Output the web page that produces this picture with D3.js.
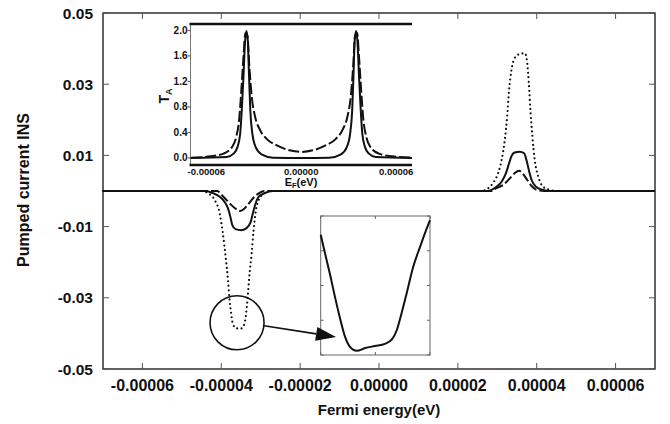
<!DOCTYPE html>
<html><head><meta charset="utf-8">
<script src="https://cdn.jsdelivr.net/npm/d3@7/dist/d3.min.js"></script>
<style>
html,body{margin:0;padding:0;background:#fff;}
text{font-family:"Liberation Sans",Arial,Helvetica,sans-serif;font-weight:bold;fill:#111;}
</style></head>
<body><svg id="c" width="670" height="424"></svg>
<script>
// ---------- main chart data ----------
const xTicks = [-0.00006,-0.00004,-0.00002,0,0.00002,0.00004,0.00006];
const xTickLabels = ["-0.00006","-0.00004","-0.00002","0.00000","0.00002","0.00004","0.00006"];
const yTicks = [0.05,0.03,0.01,-0.01,-0.03,-0.05];
const yTickLabels = ["0.05","0.03","0.01","-0.01","-0.03","-0.05"];

const solidE = [-7e-5,-4.4e-5,-4.21e-5,-4.04e-5,-3.92e-5,-3.83e-5,-3.77e-5,-3.72e-5,-3.64e-5,-3.49e-5,-3.37e-5,-3.26e-5,-3.20e-5,-3.13e-5,-3.05e-5,-2.90e-5,-2.7e-5,
  2.75e-5,2.98e-5,3.11e-5,3.22e-5,3.30e-5,3.36e-5,3.44e-5,3.57e-5,3.68e-5,3.74e-5,3.80e-5,3.87e-5,3.98e-5,4.16e-5,4.35e-5,7e-5];
const solidI = [0,0,-0.0006,-0.0016,-0.0030,-0.0049,-0.0072,-0.0096,-0.0107,-0.0110,-0.0105,-0.0089,-0.0063,-0.0035,-0.0016,-0.0006,0,
  0,0.0012,0.0026,0.0050,0.0078,0.0098,0.0108,0.0110,0.0106,0.0087,0.0059,0.0031,0.0012,0.0003,0,0];

const dotE = [-7e-5,-4.5e-5,-4.34e-5,-4.17e-5,-4.04e-5,-3.96e-5,-3.89e-5,-3.83e-5,-3.79e-5,-3.75e-5,-3.71e-5,-3.62e-5,-3.49e-5,-3.41e-5,-3.37e-5,-3.33e-5,-3.29e-5,-3.23e-5,-3.18e-5,-3.12e-5,-3.03e-5,-2.90e-5,-2.75e-5,
  2.6e-5,2.73e-5,2.89e-5,3.02e-5,3.11e-5,3.19e-5,3.25e-5,3.30e-5,3.36e-5,3.44e-5,3.57e-5,3.70e-5,3.76e-5,3.80e-5,3.84e-5,3.89e-5,3.95e-5,4.04e-5,4.16e-5,4.33e-5,4.5e-5,7e-5];
const dotI = [0,0,-0.0006,-0.0025,-0.0063,-0.0119,-0.0185,-0.0250,-0.0306,-0.0344,-0.0372,-0.0386,-0.0386,-0.0372,-0.0344,-0.0297,-0.0241,-0.0175,-0.0110,-0.0053,-0.0021,-0.0006,0,
  0,0.0005,0.0022,0.0050,0.0087,0.0143,0.0209,0.0284,0.0340,0.0373,0.0385,0.0387,0.0359,0.0303,0.0228,0.0153,0.0087,0.0040,0.0012,0.0003,0,0];

const dashE = [-7e-5,-4.1e-5,-4.0e-5,-3.87e-5,-3.75e-5,-3.62e-5,-3.52e-5,-3.41e-5,-3.30e-5,-3.20e-5,-3.07e-5,-2.9e-5,
  2.85e-5,2.98e-5,3.15e-5,3.32e-5,3.44e-5,3.55e-5,3.65e-5,3.76e-5,3.87e-5,4.0e-5,4.2e-5,7e-5];
const dashI = [0,0,-0.0010,-0.0025,-0.0039,-0.0051,-0.0056,-0.0049,-0.0035,-0.0021,-0.0008,0,
  0,0.0008,0.0017,0.0036,0.0050,0.0057,0.0048,0.0031,0.0014,0.0003,0,0];

// ---------- inset 1 (T_A) data ----------
const insetXTicks = [-0.00006,0,0.00006];
const insetXTickLabels = ["-0.00006","0.00000","0.00006"];
const insetYTicks = [0,0.4,0.8,1.2,1.6,2.0];
const insetYTickLabels = ["0.0","0.4","0.8","1.2","1.6","2.0"];
const taSolidE = [-7.0e-5,-4.70e-5,-4.28e-5,-4.03e-5,-3.86e-5,-3.76e-5,-3.65e-5,-3.57e-5,-3.47e-5,-3.38e-5,-3.30e-5,-3.22e-5,-3.09e-5,-2.88e-5,-2.51e-5,-1.77e-5,0,
  1.77e-5,2.51e-5,2.88e-5,3.09e-5,3.22e-5,3.30e-5,3.38e-5,3.47e-5,3.57e-5,3.65e-5,3.76e-5,3.86e-5,4.03e-5,4.28e-5,4.70e-5,7.0e-5];
const taSolidT = [0,0.016,0.068,0.17,0.38,0.75,1.28,1.75,1.99,1.85,1.28,0.75,0.38,0.17,0.058,0.005,0,
  0.005,0.058,0.17,0.38,0.75,1.28,1.85,1.99,1.75,1.28,0.75,0.38,0.17,0.068,0.016,0];
const taDashE = [-6.95e-5,-5.74e-5,-4.91e-5,-4.38e-5,-4.11e-5,-3.93e-5,-3.80e-5,-3.65e-5,-3.53e-5,-3.40e-5,-3.28e-5,-3.13e-5,-2.92e-5,-2.61e-5,-2.19e-5,-1.57e-5,-0.73e-5,0,
  0.73e-5,1.57e-5,2.19e-5,2.61e-5,2.92e-5,3.13e-5,3.28e-5,3.40e-5,3.53e-5,3.65e-5,3.80e-5,3.93e-5,4.11e-5,4.38e-5,4.91e-5,5.74e-5,6.95e-5];
const taDashT = [0.005,0.026,0.068,0.17,0.33,0.59,1.01,1.59,1.96,1.91,1.43,0.96,0.65,0.44,0.30,0.20,0.12,0.095,
  0.12,0.20,0.30,0.44,0.65,0.96,1.43,1.91,1.96,1.59,1.01,0.59,0.33,0.17,0.068,0.026,0.005];

// ---------- inset 2 (magnified dip) data ----------
const zoomE = [-3.700e-5,-3.688e-5,-3.674e-5,-3.661e-5,-3.647e-5,-3.633e-5,-3.620e-5,-3.601e-5,-3.578e-5,-3.551e-5,-3.524e-5,-3.505e-5,-3.491e-5,-3.478e-5,-3.464e-5,-3.446e-5,-3.427e-5,-3.414e-5,-3.400e-5];
const zoomI = [-0.03727,-0.03754,-0.03785,-0.03816,-0.03847,-0.03874,-0.03888,-0.03894,-0.03890,-0.03887,-0.03884,-0.03878,-0.03864,-0.03840,-0.03811,-0.03773,-0.03744,-0.03725,-0.03706];
const zoomXTicks = [-3.7e-5,-3.55e-5,-3.4e-5];
const zoomYTicks = [-0.039,-0.0385,-0.038,-0.0375,-0.037];

const svg = d3.select("#c");
const L=103,R=655,T=13,B=369;
const x = d3.scaleLinear([-7e-5,7e-5],[L,R]);
const y = d3.scaleLinear([-0.05,0.05],[B,T]);
const zipd=(a,b)=>a.map((v,i)=>[v,b[i]]);

// frame
svg.append("rect").attr("x",L).attr("y",T).attr("width",R-L).attr("height",B-T)
  .attr("fill","none").attr("stroke","#222").attr("stroke-width",1.4);

// ticks (mirrored, inward)
const tk = svg.append("g").attr("stroke","#555").attr("stroke-width",1);
xTicks.forEach(v=>{
  tk.append("line").attr("x1",x(v)).attr("x2",x(v)).attr("y1",B).attr("y2",B-6);
  tk.append("line").attr("x1",x(v)).attr("x2",x(v)).attr("y1",T).attr("y2",T+6);
});
yTicks.forEach(v=>{
  tk.append("line").attr("x1",L).attr("x2",L+6).attr("y1",y(v)).attr("y2",y(v));
  tk.append("line").attr("x1",R).attr("x2",R-6).attr("y1",y(v)).attr("y2",y(v));
});
xTicks.forEach((v,i)=>{
  svg.append("text").attr("x",x(v)).attr("y",391).attr("text-anchor","middle")
    .attr("font-size","16px").text(xTickLabels[i]);
});
yTicks.forEach((v,i)=>{
  svg.append("text").attr("x",93).attr("y",y(v)+5.5).attr("text-anchor","end")
    .attr("font-size","15.5px").text(yTickLabels[i]);
});
svg.append("text").attr("x",379).attr("y",415).attr("text-anchor","middle")
  .attr("font-size","15px").text("Fermi energy(eV)");
svg.append("text").attr("transform","translate(29,190) rotate(-90)").attr("text-anchor","middle")
  .attr("font-size","16px").text("Pumped current INS");

// main curves
const mline = d3.line().x(d=>x(d[0])).y(d=>y(d[1])).curve(d3.curveMonotoneX);
svg.append("path").datum(zipd(dotE,dotI)).attr("d",mline).attr("fill","none")
  .attr("stroke","#111").attr("stroke-width",2.2).attr("stroke-linecap","round").attr("stroke-dasharray","0,4.5");
svg.append("path").datum(zipd(dashE,dashI)).attr("d",mline).attr("fill","none")
  .attr("stroke","#111").attr("stroke-width",2).attr("stroke-dasharray","9,3");
svg.append("path").datum(zipd(solidE,solidI)).attr("d",mline).attr("fill","none")
  .attr("stroke","#111").attr("stroke-width",2);

// ---------- inset 1 ----------
const iL=190.5,iR=412,iT=24,iB=165;
const ix = d3.scaleLinear([-7e-5,7e-5],[iL,iR]);
const iy = d3.scaleLinear([-0.11,2.1],[iB,iT]);
const g1 = svg.append("g");
g1.append("line").attr("x1",iL).attr("x2",iL).attr("y1",iT).attr("y2",iB).attr("stroke","#777").attr("stroke-width",1);
g1.append("line").attr("x1",iL-1).attr("x2",iR).attr("y1",iT).attr("y2",iT).attr("stroke","#111").attr("stroke-width",2.5);
g1.append("line").attr("x1",iL-1).attr("x2",iR).attr("y1",iB).attr("y2",iB).attr("stroke","#111").attr("stroke-width",2.5);
insetYTicks.forEach((v,i)=>{
  g1.append("line").attr("x1",iL-3).attr("x2",iL).attr("y1",iy(v)).attr("y2",iy(v)).attr("stroke","#555");
  g1.append("text").attr("x",iL-3).attr("y",iy(v)+3.5).attr("text-anchor","end").attr("font-size","10px").text(insetYTickLabels[i]);
});
insetXTicks.forEach((v,i)=>{
  g1.append("text").attr("x",ix(v)).attr("y",175).attr("text-anchor","middle").attr("font-size","9.5px").text(insetXTickLabels[i]);
});
const ef = g1.append("text").attr("x",301).attr("y",186).attr("text-anchor","middle").attr("font-size","11px");
ef.append("tspan").text("E");
ef.append("tspan").attr("font-size","7.5px").attr("dy","1.5").text("F");
ef.append("tspan").attr("dy","-1.5").text("(eV)");
const ta = g1.append("text").attr("transform","translate(169,96) rotate(-90)").attr("text-anchor","middle").attr("font-size","14px");
ta.append("tspan").text("T");
ta.append("tspan").attr("font-size","9px").attr("dy","3").text("A");

const iline = d3.line().x(d=>ix(d[0])).y(d=>iy(d[1])).curve(d3.curveMonotoneX);
g1.append("path").datum(zipd(taDashE,taDashT)).attr("d",iline).attr("fill","none")
  .attr("stroke","#111").attr("stroke-width",2).attr("stroke-dasharray","11,3");
g1.append("path").datum(zipd(taSolidE,taSolidT)).attr("d",iline).attr("fill","none")
  .attr("stroke","#111").attr("stroke-width",2);

// ---------- inset 2 ----------
const zL=320.7,zR=430,zT=216,zB=355;
const zx = d3.scaleLinear([-3.7e-5,-3.4e-5],[zL,zR]);
const zy = d3.scaleLinear([-0.039,-0.037],[zB,zT]);
const g2 = svg.append("g");
g2.append("rect").attr("x",zL).attr("y",zT).attr("width",zR-zL).attr("height",zB-zT).attr("fill","#fff")
  .attr("stroke","#666").attr("stroke-width",1);
zoomXTicks.forEach(v=>{
  g2.append("line").attr("x1",zx(v)).attr("x2",zx(v)).attr("y1",zT).attr("y2",zT+3).attr("stroke","#666");
  g2.append("line").attr("x1",zx(v)).attr("x2",zx(v)).attr("y1",zB).attr("y2",zB-3).attr("stroke","#666");
});
zoomYTicks.forEach(v=>{
  g2.append("line").attr("x1",zL).attr("x2",zL+3).attr("y1",zy(v)).attr("y2",zy(v)).attr("stroke","#666");
  g2.append("line").attr("x1",zR).attr("x2",zR-3).attr("y1",zy(v)).attr("y2",zy(v)).attr("stroke","#666");
});
const zline = d3.line().x(d=>zx(d[0])).y(d=>zy(d[1])).curve(d3.curveMonotoneX);
g2.append("path").datum(zipd(zoomE,zoomI)).attr("d",zline).attr("fill","none").attr("stroke","#111").attr("stroke-width",2);

// ---------- magnifier circle + arrow (drawn last, on top) ----------
const cx = x(-3.6e-5), cy = y(-0.037);
svg.append("circle").attr("cx",cx).attr("cy",cy).attr("r",27).attr("fill","none")
  .attr("stroke","#111").attr("stroke-width",1.6);
const ax1=cx+27, ay1=cy+3, tipX=336, tipY=337;
const dx=tipX-ax1, dy=tipY-ay1, len=Math.hypot(dx,dy), ux=dx/len, uy=dy/len;
const bx=tipX-20*ux, by=tipY-20*uy;
svg.append("line").attr("x1",ax1).attr("y1",ay1).attr("x2",bx).attr("y2",by).attr("stroke","#111").attr("stroke-width",1.6);
svg.append("path").attr("d",`M${tipX},${tipY}L${bx-7*uy},${by+7*ux}L${bx+7*uy},${by-7*ux}Z`).attr("fill","#111");
</script></body></html>
